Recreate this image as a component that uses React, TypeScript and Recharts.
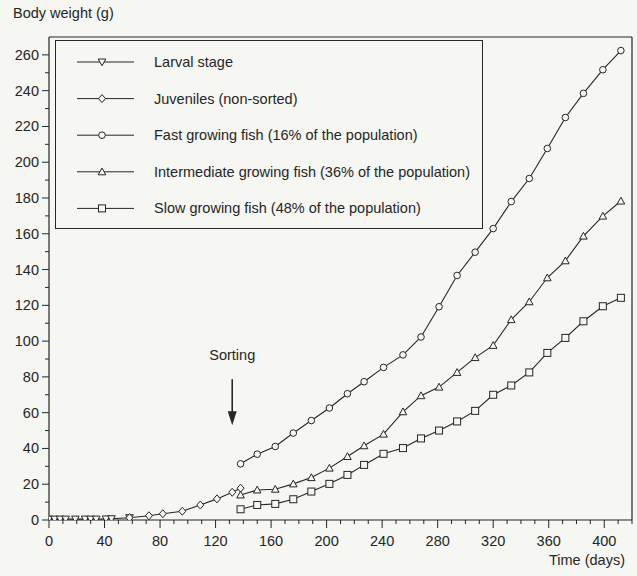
import {
  LineChart,
  Line,
  XAxis,
  YAxis,
  ReferenceLine,
  ReferenceDot,
} from "recharts";

const larvalDays = [0, 4, 8, 12, 19, 26, 30, 34, 41, 45, 58];
const larvalWeight = [0.5, 0.5, 0.5, 0.5, 0.5, 0.5, 0.5, 0.5, 0.6, 0.7, 1.3];

const juvenileDays = [58, 72, 82, 96, 109, 121, 132, 138];
const juvenileWeight = [1.3, 2.4, 3.5, 4.9, 8.4, 11.8, 15.5, 17.8];

const sortedDays = [
  138, 150, 163, 176, 189, 202, 215, 227, 241, 255, 268, 281, 294, 307, 320,
  333, 346, 359, 372, 385, 399, 412,
];
const fastWeight = [
  31.4, 36.8, 41.1, 48.6, 55.6, 62.6, 70.6, 77.3, 85.3, 92.3, 102.3, 119.2,
  136.7, 149.7, 162.9, 178, 190.9, 207.7, 225, 238.5, 251.7, 262.4,
];
const intermediateWeight = [
  14, 16.8, 17.2, 20.2, 23.7, 29, 35.5, 41.5, 48, 60.5, 69.5, 74.3, 82.5,
  90.8, 97.6, 112, 122, 135.4, 144.9, 158.7, 169.9, 178.3,
];
const slowWeight = [
  6, 8.4, 9, 11.6, 15.9, 20.2, 25.2, 30.8, 37, 40.2, 45.6, 50, 55.1, 61, 70,
  75.2, 82.5, 93.4, 101.8, 111.1, 119.5, 124.2,
];

const xTicks = Array.from({ length: 43 }, (_, i) => i * 10);
const yTicks = Array.from({ length: 27 }, (_, i) => i * 10);

const legendItems = [
  { shape: "down", label: "Larval stage" },
  { shape: "diamond", label: "Juveniles (non-sorted)" },
  { shape: "circle", label: "Fast growing fish (16% of the population)" },
  { shape: "up", label: "Intermediate growing fish (36% of the population)" },
  { shape: "square", label: "Slow growing fish (48% of the population)" },
];

const INK = "#262626";
const BG = "#f6f6f3";
const FONT = "'Liberation Sans', Arial, sans-serif";

const pairs = (xs: number[], ys: number[]) =>
  xs.map((d, i) => ({ day: d, w: ys[i] }));

function Marker({ shape, cx, cy }: { shape: string; cx: number; cy: number }) {
  const common = { fill: BG, stroke: INK, strokeWidth: 1 };
  switch (shape) {
    case "down":
      return (
        <polygon
          {...common}
          points={`${cx - 3.8},${cy - 3} ${cx + 3.8},${cy - 3} ${cx},${cy + 3.8}`}
        />
      );
    case "up":
      return (
        <polygon
          {...common}
          points={`${cx - 3.8},${cy + 3} ${cx + 3.8},${cy + 3} ${cx},${cy - 3.8}`}
        />
      );
    case "diamond":
      return (
        <polygon
          {...common}
          points={`${cx},${cy - 4} ${cx + 3.5},${cy} ${cx},${cy + 4} ${cx - 3.5},${cy}`}
        />
      );
    case "square":
      return <rect {...common} x={cx - 3.5} y={cy - 3.5} width={7} height={7} />;
    default:
      return <circle {...common} cx={cx} cy={cy} r={3.3} />;
  }
}

const dotFor = (shape: string) => (p: any) => (
  <Marker key={`${shape}-${p.index}`} shape={shape} cx={p.cx} cy={p.cy} />
);

function YTick({ x, y, payload }: any) {
  const v = payload.value;
  const major = v % 20 === 0;
  return (
    <g>
      <line x1={x - (major ? 7 : 4)} x2={x} y1={y} y2={y} stroke={INK} />
      {major && (
        <text
          x={x - 10}
          y={y}
          textAnchor="end"
          dominantBaseline="central"
          fontSize={14.5}
          fontFamily={FONT}
          fill={INK}
        >
          {v}
        </text>
      )}
    </g>
  );
}

function XTick({ x, y, payload }: any) {
  const v = payload.value;
  const major = v % 40 === 0;
  return (
    <g>
      <line x1={x} x2={x} y1={y} y2={y + (major ? 8 : 4)} stroke={INK} />
      {major && (
        <text
          x={x}
          y={y + 21}
          textAnchor="middle"
          dominantBaseline="central"
          fontSize={14.5}
          fontFamily={FONT}
          fill={INK}
        >
          {v}
        </text>
      )}
    </g>
  );
}

function SortingArrow({ cx, cy }: any) {
  return (
    <g>
      <text
        x={cx}
        y={cy - 70}
        textAnchor="middle"
        dominantBaseline="central"
        fontSize={14.5}
        fontFamily={FONT}
        fill={INK}
      >
        Sorting
      </text>
      <line x1={cx} x2={cx} y1={cy - 46} y2={cy - 12} stroke={INK} strokeWidth={1.6} />
      <polygon
        points={`${cx - 4.5},${cy - 14} ${cx + 4.5},${cy - 14} ${cx},${cy}`}
        fill={INK}
      />
    </g>
  );
}

function LegendBox() {
  return (
    <div
      style={{
        position: "absolute",
        left: 55,
        top: 40,
        width: 428,
        height: 189,
        border: `1.2px solid ${INK}`,
        boxSizing: "border-box",
        background: BG,
      }}
    >
      <svg width={426} height={187}>
        {legendItems.map((it, i) => {
          const cy = 21 + i * 36.6;
          return (
            <g key={it.label}>
              <line x1={21} x2={78} y1={cy} y2={cy} stroke={INK} />
              <Marker shape={it.shape} cx={46} cy={cy} />
              <text
                x={98}
                y={cy}
                dominantBaseline="central"
                fontSize={14.5}
                fontFamily={FONT}
                fill={INK}
              >
                {it.label}
              </text>
            </g>
          );
        })}
      </svg>
    </div>
  );
}

export default function App() {
  return (
    <div
      style={{
        position: "absolute",
        left: 0,
        top: 0,
        width: 637,
        height: 576,
        background: BG,
        fontFamily: FONT,
        color: INK,
      }}
    >
      <LineChart
        width={637}
        height={576}
        margin={{ top: 37, right: 5, bottom: 26, left: 0 }}
      >
        <XAxis
          type="number"
          dataKey="day"
          domain={[0, 420]}
          ticks={xTicks}
          interval={0}
          tickLine={false}
          tickSize={0}
          tickMargin={0}
          height={30}
          axisLine={{ stroke: INK, strokeWidth: 1.2 }}
          tick={<XTick />}
          allowDataOverflow
        />
        <YAxis
          type="number"
          dataKey="w"
          domain={[0, 270]}
          ticks={yTicks}
          interval={0}
          tickLine={false}
          tickSize={0}
          tickMargin={0}
          width={49}
          axisLine={{ stroke: INK, strokeWidth: 1.2 }}
          tick={<YTick />}
          allowDataOverflow
        />
        <ReferenceLine y={270} stroke={INK} strokeWidth={1.2} />
        <ReferenceLine x={420} stroke={INK} strokeWidth={1.2} />
        <Line
          data={pairs(larvalDays, larvalWeight)}
          dataKey="w"
          stroke={INK}
          strokeWidth={1.1}
          dot={dotFor("down")}
          isAnimationActive={false}
        />
        <Line
          data={pairs(juvenileDays, juvenileWeight)}
          dataKey="w"
          stroke={INK}
          strokeWidth={1.1}
          dot={dotFor("diamond")}
          isAnimationActive={false}
        />
        <Line
          data={pairs(sortedDays, fastWeight)}
          dataKey="w"
          stroke={INK}
          strokeWidth={1.1}
          dot={dotFor("circle")}
          isAnimationActive={false}
        />
        <Line
          data={pairs(sortedDays, intermediateWeight)}
          dataKey="w"
          stroke={INK}
          strokeWidth={1.1}
          dot={dotFor("up")}
          isAnimationActive={false}
        />
        <Line
          data={pairs(sortedDays, slowWeight)}
          dataKey="w"
          stroke={INK}
          strokeWidth={1.1}
          dot={dotFor("square")}
          isAnimationActive={false}
        />
        <ReferenceDot x={132} y={53} shape={<SortingArrow />} />
      </LineChart>
      <LegendBox />
      <div
        style={{
          position: "absolute",
          left: 13,
          top: 5,
          fontSize: 14.5,
          whiteSpace: "nowrap",
        }}
      >
        Body weight (g)
      </div>
      <div
        style={{
          position: "absolute",
          right: 12,
          top: 552,
          fontSize: 14.5,
          lineHeight: "17px",
          whiteSpace: "nowrap",
        }}
      >
        Time (days)
      </div>
    </div>
  );
}
